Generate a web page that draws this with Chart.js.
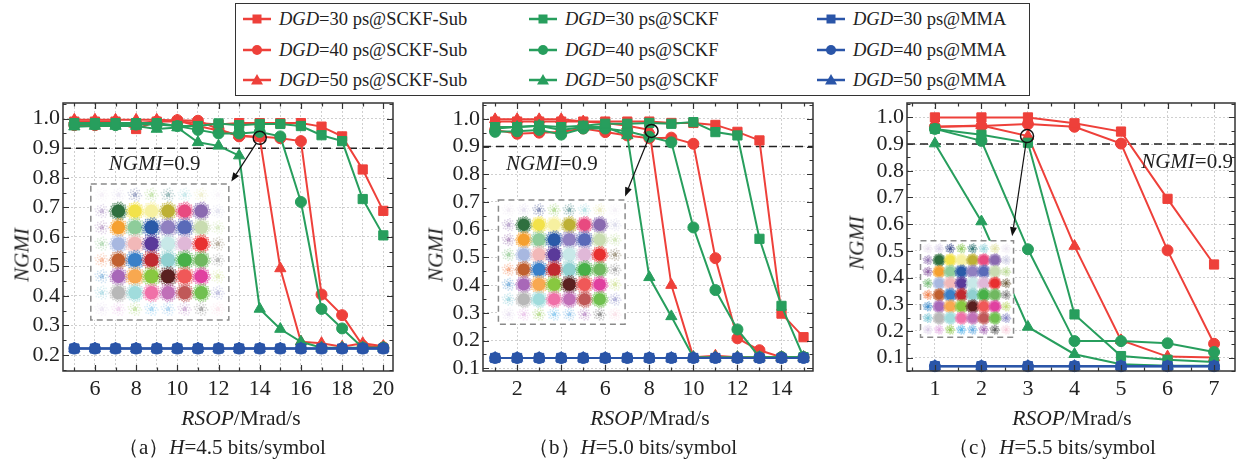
<!DOCTYPE html>
<html>
<head>
<meta charset="utf-8">
<script src="https://cdn.jsdelivr.net/npm/chart.js@4.4.1/dist/chart.umd.min.js"></script>
<style>
  html,body{margin:0;padding:0;background:#fff;}
  #wrap{position:relative;width:1243px;height:461px;overflow:hidden;font-family:"Liberation Serif","Times New Roman",serif;color:#222;}
  canvas{position:absolute;left:0;top:0;}
  #legend{position:absolute;left:235px;top:3px;width:795px;height:93px;border:1.5px solid #333;box-sizing:border-box;background:#fff;}
  .li{position:absolute;font-size:18.5px;line-height:20px;white-space:nowrap;display:flex;align-items:center;transform:translateY(-50%);}
  .li svg{margin-right:8px;}
  .yt{position:absolute;font-size:21px;font-style:italic;white-space:nowrap;transform:translate(-50%,-50%) rotate(-90deg);}
  .xt{position:absolute;font-size:21.5px;white-space:nowrap;transform:translate(-50%,-50%);}
  .cap{position:absolute;font-size:21px;white-space:nowrap;transform:translateY(-50%);}
  .ann{position:absolute;font-size:21px;white-space:nowrap;transform:translate(-50%,-50%);}
  i{font-style:italic;}
</style>
</head>
<body>
<div id="wrap">
  <canvas id="ca" width="1243" height="461"></canvas>
  <canvas id="cb" width="1243" height="461"></canvas>
  <canvas id="cc" width="1243" height="461"></canvas>
  <div id="legend"></div>
  <div id="legendItems"></div>
  <div class="yt" style="left:22px;top:255px">NGMI</div>
  <div class="yt" style="left:436px;top:255px">NGMI</div>
  <div class="yt" style="left:857px;top:243px">NGMI</div>
  <div class="xt" style="left:241px;top:418px"><i>RSOP</i>/Mrad/s</div>
  <div class="xt" style="left:650px;top:418px"><i>RSOP</i>/Mrad/s</div>
  <div class="xt" style="left:1072px;top:418px"><i>RSOP</i>/Mrad/s</div>
  <div class="cap" style="left:118px;top:447px">（a）<i>H</i>=4.5 bits/symbol</div>
  <div class="cap" style="left:528px;top:447px">（b）<i>H</i>=5.0 bits/symbol</div>
  <div class="cap" style="left:948px;top:447px">（c）<i>H</i>=5.5 bits/symbol</div>
  <div class="ann" id="annA"><i>NGMI</i>=0.9</div>
  <div class="ann" id="annB"><i>NGMI</i>=0.9</div>
  <div class="ann" id="annC"><i>NGMI</i>=0.9</div>
</div>
<script>
// ---------------- data ----------------
const DGD = [30, 40, 50];
const THRESHOLD = 0.9;

// (a) H = 4.5 bits/symbol
const X_A = [5,6,7,8,9,10,11,12,13,14,15,16,17,18,19,20];
const A_SUB30  = [0.99,0.99,0.99,0.965,0.99,0.99,0.985,0.98,0.985,0.985,0.985,0.985,0.973,0.94,0.828,0.688];
const A_SUB40  = [0.978,0.978,0.98,0.985,0.99,0.995,0.993,0.965,0.94,0.94,0.934,0.924,0.405,0.335,0.232,0.226];
const A_SUB50  = [0.996,0.996,0.996,0.996,0.996,0.994,0.975,0.96,0.945,0.935,0.493,0.245,0.24,0.228,0.24,0.23];
const A_SCKF30 = [0.985,0.985,0.985,0.985,0.985,0.975,0.975,0.984,0.978,0.982,0.982,0.975,0.944,0.924,0.728,0.605];
const A_SCKF40 = [0.98,0.98,0.978,0.98,0.98,0.975,0.962,0.95,0.95,0.955,0.94,0.718,0.356,0.29,0.225,0.225];
const A_SCKF50 = [0.973,0.975,0.975,0.975,0.965,0.97,0.92,0.908,0.875,0.356,0.288,0.245,0.225,0.225,0.225,0.225];
const A_MMA30  = [0.222,0.222,0.222,0.222,0.222,0.222,0.222,0.222,0.222,0.222,0.222,0.222,0.222,0.222,0.222,0.222];
const A_MMA40  = [0.222,0.222,0.222,0.222,0.222,0.222,0.222,0.222,0.222,0.222,0.222,0.222,0.222,0.222,0.222,0.222];
const A_MMA50  = [0.222,0.222,0.222,0.222,0.222,0.222,0.222,0.222,0.222,0.222,0.222,0.222,0.222,0.222,0.222,0.222];

// (b) H = 5.0 bits/symbol
const X_B = [1,2,3,4,5,6,7,8,9,10,11,12,13,14,15];
const B_SUB30  = [0.99,0.99,0.99,0.99,0.99,0.99,0.99,0.99,0.985,0.985,0.978,0.953,0.922,0.297,0.212];
const B_SUB40  = [0.96,0.946,0.95,0.952,0.965,0.952,0.94,0.93,0.932,0.91,0.497,0.208,0.165,0.14,0.14];
const B_SUB50  = [0.998,0.998,0.998,0.998,0.99,0.985,0.975,0.96,0.40,0.14,0.145,0.14,0.14,0.14,0.14];
const B_SCKF30 = [0.97,0.97,0.975,0.97,0.975,0.982,0.982,0.985,0.982,0.988,0.952,0.94,0.567,0.325,0.14];
const B_SCKF40 = [0.953,0.955,0.96,0.943,0.965,0.965,0.955,0.935,0.915,0.608,0.382,0.24,0.14,0.14,0.14];
const B_SCKF50 = [0.965,0.97,0.975,0.96,0.97,0.97,0.94,0.428,0.287,0.14,0.14,0.14,0.14,0.14,0.14];
const B_MMA30  = [0.137,0.137,0.137,0.137,0.137,0.137,0.137,0.137,0.137,0.137,0.137,0.137,0.137,0.137,0.137];
const B_MMA40  = [0.137,0.137,0.137,0.137,0.137,0.137,0.137,0.137,0.137,0.137,0.137,0.137,0.137,0.137,0.137];
const B_MMA50  = [0.137,0.137,0.137,0.137,0.137,0.137,0.137,0.137,0.137,0.137,0.137,0.137,0.137,0.137,0.137];

// (c) H = 5.5 bits/symbol
const X_C = [1,2,3,4,5,6,7];
const C_SUB30  = [1.0,1.0,1.0,0.978,0.947,0.695,0.449];
const C_SUB40  = [0.965,0.968,0.975,0.965,0.902,0.502,0.152];
const C_SUB50  = [0.965,0.97,0.93,0.518,0.165,0.104,0.101];
const C_SCKF30 = [0.957,0.935,0.905,0.262,0.106,0.092,0.084];
const C_SCKF40 = [0.957,0.912,0.506,0.162,0.162,0.154,0.121];
const C_SCKF50 = [0.902,0.61,0.215,0.113,0.075,0.07,0.07];
const C_MMA30  = [0.068,0.068,0.068,0.068,0.068,0.068,0.068];
const C_MMA40  = [0.068,0.068,0.068,0.068,0.068,0.068,0.068];
const C_MMA50  = [0.068,0.068,0.068,0.068,0.068,0.068,0.068];

// constellation colours (8x8) for the insets
const PALETTE = [
  ['#d8c8e0','#d8d0e8','#3a4a8a','#8cc85a','#2a7070','#8fd0d8','#e0e0a0','#e0d8e8'],
  ['#9070b0','#2f6f3f','#f2e24a','#f6f0a0','#bdb035','#e84a80','#8a6ab0','#c8c8e0'],
  ['#8a5aa0','#f5a030','#8ecc9a','#2a5aa8','#9080c0','#5a6ab8','#c8dcb0','#b8d890'],
  ['#70b870','#a8b8e0','#f2b8b8','#5a3a9a','#c8e8e8','#e0b8d8','#e83030','#6a5a3a'],
  ['#f07840','#c06030','#3a80c8','#c02a30','#90d0d0','#48b048','#70b860','#707070'],
  ['#3a88c8','#a868b8','#f8a850','#88c840','#5a2020','#f05858','#e040a0','#c0d870'],
  ['#70c0d0','#b8b8b8','#a0dcdc','#f070a8','#c070b8','#c05858','#70c050','#8080c0'],
  ['#c0a8d8','#e0a8e0','#90c850','#50b0e8','#60a8e0','#a060b0','#505050','#f0a8c0']
];

// ---------------- styling ----------------
const FONT = '"Liberation Serif","Times New Roman",serif';
const RED = '#EE403A', GREEN = '#279E5D', BLUE = '#2A55A8';
const MARKERS = [
  {pointStyle:'rect', pointRadius:6.5},
  {pointStyle:'circle', pointRadius:5.5},
  {pointStyle:'triangle', pointRadius:6.5}
];

function pts(xs, ys){ return xs.map((x,i)=>({x:x, y:ys[i]})); }

function buildDatasets(xs, sub, sckf, mma){
  const out = [];
  const groups = [[sub, RED, 'SCKF-Sub', 2], [sckf, GREEN, 'SCKF', 1], [mma, BLUE, 'MMA', 0]];
  groups.forEach(([arrs, color, name, order])=>{
    arrs.forEach((ys, k)=>{
      out.push({
        label: 'DGD=' + DGD[k] + ' ps@' + name,
        data: pts(xs, ys),
        borderColor: color, backgroundColor: color,
        pointBackgroundColor: color, pointBorderColor: color,
        borderWidth: 2, pointBorderWidth: 1,
        pointStyle: MARKERS[k].pointStyle, pointRadius: MARKERS[k].pointRadius,
        order: order, tension: 0, clip: false
      });
    });
  });
  return out;
}

function drawConstellation(ctx, L, T, R, B, outerStrength){
  const W = R-L, H = B-T;
  const mx = W*0.08, my = H*0.08;
  const sx = (W-2*mx)/7, sy = (H-2*my)/7;
  const s = Math.min(sx, sy);
  for (let r=0; r<8; r++) for (let c=0; c<8; c++){
    const ring = Math.max(Math.abs(r-3.5), Math.abs(c-3.5));
    const cx = L+mx+c*sx, cy = T+my+r*sy;
    const corner = (r===0||r===7) && (c===0||c===7);
    const rad = s*(ring<2 ? 0.56 : ring<3 ? 0.52 : 0.4);
    let alpha = ring<3 ? 1 : outerStrength;
    if (corner) alpha *= 0.5;
    ctx.fillStyle = PALETTE[r][c];
    const n = ring<3 ? 80 : 26;
    for (let k=0; k<n; k++){
      const rr = rad*Math.sqrt((k+0.5)/n)*1.1;
      const th = k*2.39996;
      ctx.globalAlpha = alpha*(1-0.45*(k/n));
      ctx.fillRect(cx+rr*Math.cos(th)-0.75, cy+rr*Math.sin(th)-0.75, 1.5, 1.5);
    }
    ctx.globalAlpha = alpha;
    ctx.beginPath(); ctx.arc(cx, cy, rad*(ring<3 ? 0.78 : 0.35), 0, Math.PI*2); ctx.fill();
  }
  ctx.globalAlpha = 1;
}

function tickValues(min, max, step){
  const out = [];
  const start = Math.ceil(min/step - 1e-9);
  for (let k=start; k*step <= max+1e-9; k++) out.push(+(k*step).toFixed(4));
  return out;
}

const deco = {
  id: 'deco',
  beforeDatasetsDraw(chart, args, o){
    const {ctx, chartArea:a, scales:{y}} = chart;
    const yy = y.getPixelForValue(THRESHOLD);
    ctx.save();
    ctx.strokeStyle = '#222'; ctx.lineWidth = 1.5; ctx.setLineDash([8,5]);
    ctx.beginPath(); ctx.moveTo(a.left, yy); ctx.lineTo(a.right, yy); ctx.stroke();
    ctx.restore();
  },
  afterDatasetsDraw(chart, args, o){
    const {ctx, scales:{x, y}} = chart;
    const L = x.getPixelForValue(o.inset[0]), R = x.getPixelForValue(o.inset[1]);
    const T = y.getPixelForValue(o.inset[2]), B = y.getPixelForValue(o.inset[3]);
    ctx.save();
    ctx.fillStyle = '#fff'; ctx.fillRect(L, T, R-L, B-T);
    drawConstellation(ctx, L, T, R, B, o.outer);
    ctx.strokeStyle = '#8a8a8a'; ctx.lineWidth = 1.5; ctx.setLineDash([6,4]);
    ctx.strokeRect(L, T, R-L, B-T); ctx.setLineDash([]);
    const cx = x.getPixelForValue(o.mark[0]), cy = y.getPixelForValue(o.mark[1]);
    const cr = 6.5;
    ctx.strokeStyle = '#111'; ctx.lineWidth = 1.5;
    ctx.beginPath(); ctx.arc(cx, cy, cr, 0, Math.PI*2); ctx.stroke();
    const tx = x.getPixelForValue(o.arrowTo[0]), ty = y.getPixelForValue(o.arrowTo[1]);
    const ang = Math.atan2(ty-cy, tx-cx);
    const sx = cx+cr*Math.cos(ang), sy = cy+cr*Math.sin(ang);
    const hl = 9, hw = 3.5;
    const bx = tx-hl*Math.cos(ang), by = ty-hl*Math.sin(ang);
    ctx.lineWidth = 1.2;
    ctx.beginPath(); ctx.moveTo(sx, sy); ctx.lineTo(bx, by); ctx.stroke();
    ctx.fillStyle = '#111';
    ctx.beginPath(); ctx.moveTo(tx, ty);
    ctx.lineTo(bx+hw*Math.sin(ang), by-hw*Math.cos(ang));
    ctx.lineTo(bx-hw*Math.sin(ang), by+hw*Math.cos(ang));
    ctx.closePath(); ctx.fill();
    ctx.restore();
  },
  afterDraw(chart, args, o){
    const {ctx, chartArea:a, scales:{x, y}} = chart;
    ctx.save();
    ctx.strokeStyle = '#333'; ctx.lineWidth = 1.2;
    const xMaj = tickValues(x.min, x.max, o.xMajor);
    tickValues(x.min, x.max, o.xMinor).forEach(v=>{
      const major = xMaj.some(m=>Math.abs(m-v)<1e-6);
      const len = major ? 6 : 3.5;
      const px = Math.round(x.getPixelForValue(v))+0.5;
      ctx.beginPath();
      ctx.moveTo(px, a.bottom); ctx.lineTo(px, a.bottom-len);
      ctx.moveTo(px, a.top); ctx.lineTo(px, a.top+len);
      ctx.stroke();
    });
    const yMaj = tickValues(y.min, y.max, o.yMajor);
    tickValues(y.min, y.max, o.yMinor).forEach(v=>{
      const major = yMaj.some(m=>Math.abs(m-v)<1e-6);
      const len = major ? 6 : 3.5;
      const py = Math.round(y.getPixelForValue(v))+0.5;
      ctx.beginPath();
      ctx.moveTo(a.left, py); ctx.lineTo(a.left+len, py);
      ctx.moveTo(a.right, py); ctx.lineTo(a.right-len, py);
      ctx.stroke();
    });
    ctx.lineWidth = 1.5; ctx.strokeStyle = '#333';
    ctx.strokeRect(a.left, a.top, a.right-a.left, a.bottom-a.top);
    ctx.restore();
  }
};

function makeChart(id, cfg){
  return new Chart(document.getElementById(id), {
    type: 'line',
    data: {datasets: cfg.datasets},
    options: {
      responsive: false, animation: false, devicePixelRatio: 1,
      events: [],
      layout: {padding: {left: cfg.left-60, right: 1243-cfg.right, top: 103, bottom: 50}},
      plugins: {legend: {display: false}, tooltip: {enabled: false}, deco: cfg.deco},
      scales: {
        x: {
          type: 'linear', min: cfg.xmin, max: cfg.xmax,
          afterFit: s=>{ s.height = 40; },
          ticks: {stepSize: cfg.xStep, includeBounds: false, autoSkip: false, maxRotation: 0, minRotation: 0,
                  padding: 5, color: '#222', font: {family: FONT, size: 22},
                  callback: v => cfg.xLabel(v)},
          grid: {drawTicks: false, lineWidth: 1,
                 color: c => (c.tick && cfg.xGrid(c.tick.value)) ? '#cfcfcf' : 'rgba(0,0,0,0)'},
          border: {display: false, dash: [2,2]}
        },
        y: {
          type: 'linear', min: cfg.ymin, max: cfg.ymax,
          afterFit: s=>{ s.width = 60; },
          ticks: {stepSize: 0.1, includeBounds: false, autoSkip: false, padding: 3,
                  color: '#222', font: {family: FONT, size: 22},
                  callback: v => v.toFixed(1)},
          grid: {drawTicks: false, lineWidth: 1, color: '#cfcfcf'},
          border: {display: false, dash: [2,2]}
        }
      }
    },
    plugins: [deco]
  });
}

const isEven = v => Math.abs(Math.round(v) % 2) === 0;

const chartA = makeChart('ca', {
  datasets: buildDatasets(X_A, [A_SUB30,A_SUB40,A_SUB50], [A_SCKF30,A_SCKF40,A_SCKF50], [A_MMA30,A_MMA40,A_MMA50]),
  left: 63, right: 393, xmin: 4.45, xmax: 20.47, ymin: 0.146, ymax: 1.053, xStep: 1,
  xLabel: v => isEven(v) ? String(v) : '', xGrid: v => true,
  deco: {inset: [5.8, 12.5, 0.779, 0.319], outer: 0.35, mark: [14, 0.935], arrowTo: [12.62, 0.787],
         xMajor: 2, xMinor: 1, yMajor: 0.1, yMinor: 0.05}
});
const chartB = makeChart('cb', {
  datasets: buildDatasets(X_B, [B_SUB30,B_SUB40,B_SUB50], [B_SCKF30,B_SCKF40,B_SCKF50], [B_MMA30,B_MMA40,B_MMA50]),
  left: 483, right: 813, xmin: 0.45, xmax: 15.43, ymin: 0.09, ymax: 1.057, xStep: 1,
  xLabel: v => isEven(v) ? String(v) : '', xGrid: v => isEven(v),
  deco: {inset: [1.15, 6.9, 0.707, 0.259], outer: 0.45, mark: [8.1, 0.956], arrowTo: [6.9, 0.72],
         xMajor: 2, xMinor: 1, yMajor: 0.1, yMinor: 0.05}
});
const chartC = makeChart('cc', {
  datasets: buildDatasets(X_C, [C_SUB30,C_SUB40,C_SUB50], [C_SCKF30,C_SCKF40,C_SCKF50], [C_MMA30,C_MMA40,C_MMA50]),
  left: 907, right: 1235, xmin: 0.4, xmax: 7.45, ymin: 0.05, ymax: 1.054, xStep: 1,
  xLabel: v => String(v), xGrid: v => true,
  deco: {inset: [0.69, 2.69, 0.538, 0.176], outer: 0.8, mark: [2.98, 0.93], arrowTo: [2.66, 0.555],
         xMajor: 1, xMinor: 0.5, yMajor: 0.1, yMinor: 0.05}
});

function place(id, chart, xv, yv){
  const el = document.getElementById(id);
  el.style.left = chart.scales.x.getPixelForValue(xv) + 'px';
  el.style.top = chart.scales.y.getPixelForValue(yv) + 'px';
}
place('annA', chartA, 8.9, 0.85);
place('annB', chartB, 3.58, 0.84);
place('annC', chartC, 6.42, 0.836);

// ---------------- legend ----------------
function markerSVG(color, style){
  let shape = '';
  if (style === 'rect') shape = `<rect x="9.5" y="2.5" width="9" height="9" fill="${color}"/>`;
  else if (style === 'circle') shape = `<circle cx="14" cy="7" r="5" fill="${color}"/>`;
  else shape = `<polygon points="14,1 20,11.5 8,11.5" fill="${color}"/>`;
  return `<svg width="28" height="14" viewBox="0 0 28 14"><line x1="0" y1="7" x2="28" y2="7" stroke="${color}" stroke-width="2.5"/>${shape}</svg>`;
}
const LEG_COLS = [{x: 243, color: RED, name: 'SCKF-Sub'}, {x: 529, color: GREEN, name: 'SCKF'}, {x: 817, color: BLUE, name: 'MMA'}];
const LEG_ROWS = [19, 50, 80];
let html = '';
LEG_COLS.forEach(col=>{
  LEG_ROWS.forEach((ry, k)=>{
    html += `<div class="li" style="left:${col.x}px;top:${ry}px">${markerSVG(col.color, MARKERS[k].pointStyle)}<span><i>DGD</i>=${DGD[k]} ps@${col.name}</span></div>`;
  });
});
document.getElementById('legendItems').innerHTML = html;
</script>
</body>
</html>
